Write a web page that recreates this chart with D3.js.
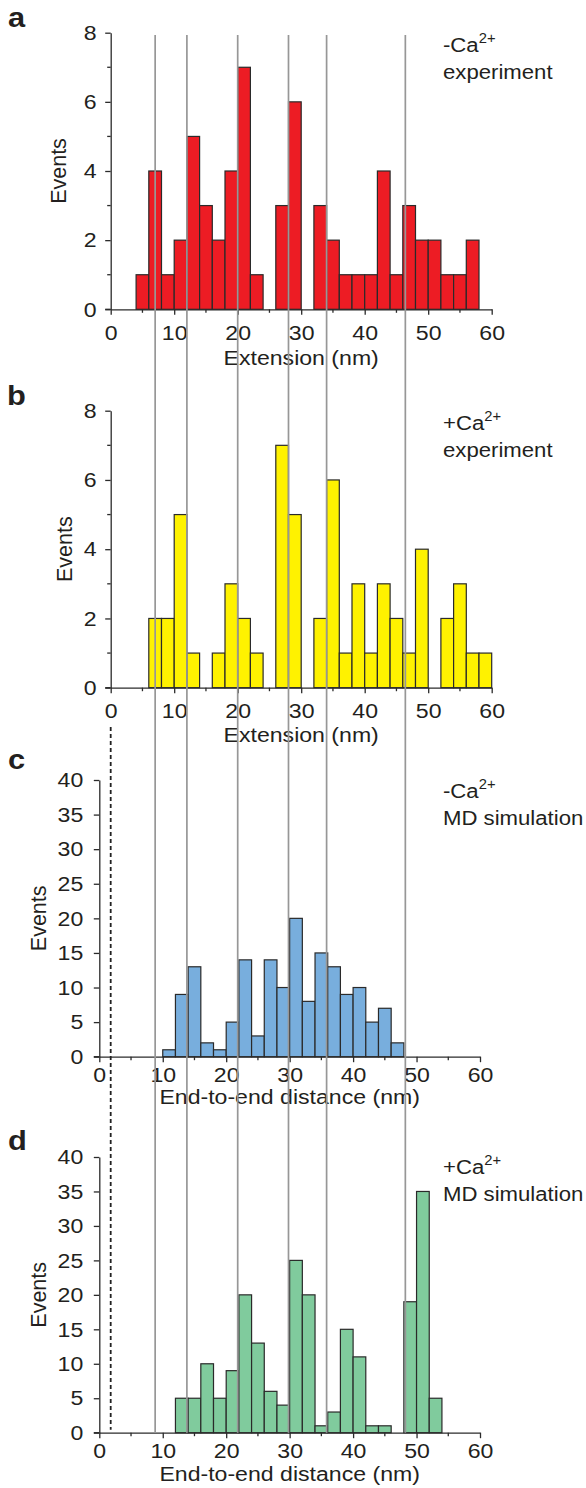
<!DOCTYPE html>
<html><head><meta charset="utf-8">
<script src="https://cdn.jsdelivr.net/npm/d3@7"></script>
<style>
html,body{margin:0;padding:0;background:#fff;}
svg{display:block;}
text{font-family:"Liberation Sans",Arial,Helvetica,sans-serif;fill:#231f20;}
</style></head><body>
<script>
// ---- data ----
const binWidth = 2;
const aStarts = [4,6,8,10,12,14,16,18,20,22,24,26,28,30,32,34,36,38,40,42,44,46,48,50,52,54,56];
const aCounts = [1,4,1,2,5,3,2,4,7,1,0,3,6,0,3,2,1,1,1,4,1,3,2,2,1,1,2];
const bStarts = [6,8,10,12,14,16,18,20,22,24,26,28,30,32,34,36,38,40,42,44,46,48,50,52,54,56,58];
const bCounts = [2,2,5,1,0,1,3,2,1,0,7,5,0,2,6,1,3,1,3,2,1,4,0,2,3,1,1];
const cStarts = [10,12,14,16,18,20,22,24,26,28,30,32,34,36,38,40,42,44,46];
const cCounts = [1,9,13,2,1,5,14,3,14,10,20,8,15,13,9,10,5,7,2];
const dStarts = [12,14,16,18,20,22,24,26,28,30,32,34,36,38,40,42,44,46,48,50,52];
const dCounts = [5,5,10,5,9,20,13,6,4,25,20,1,3,15,11,1,1,0,19,35,5];
const xTicks = [0,10,20,30,40,50,60];
const xMinor = [5,15,25,35,45,55];
const yTicksExp = [0,2,4,6,8];
const yMinorExp = [1,3,5,7];
const yTicksSim = [0,5,10,15,20,25,30,35,40];
const guideLines = [7,12,20,28,34,46.4];   // in panel a/b extension units
const dashedAt = 0;                           // in panel a/b extension units

const panels = [
  {label:"a", starts:aStarts, counts:aCounts, color:"#ed1c24", yMax:8, yTicks:yTicksExp, yMinor:yMinorExp,
   ion:"-Ca", note:"experiment", xTitle:"Extension (nm)"},
  {label:"b", starts:bStarts, counts:bCounts, color:"#fff200", yMax:8, yTicks:yTicksExp, yMinor:yMinorExp,
   ion:"+Ca", note:"experiment", xTitle:"Extension (nm)"},
  {label:"c", starts:cStarts, counts:cCounts, color:"#78aedd", yMax:40, yTicks:yTicksSim, yMinor:[],
   ion:"-Ca", note:"MD simulation", xTitle:"End-to-end distance (nm)"},
  {label:"d", starts:dStarts, counts:dCounts, color:"#80cb9d", yMax:40, yTicks:yTicksSim, yMinor:[],
   ion:"+Ca", note:"MD simulation", xTitle:"End-to-end distance (nm)"}
];

// ---- layout ----
const W = 586, H = 1488;
const SX = 1.1;    // horizontal stretch of the reference typography
const SXA = 1.055; // annotations (must fit at right edge)
const FS = 21;
const layout = [
  {x0:110.7, x1:491.7, top:32.7, bot:309.3, lab:[8,26.7], ann:[443,52], titleDy:56, evX:58, xPad:10.5, yPad:8.5},
  {x0:110.7, x1:491.7, top:410.7, bot:687.7, lab:[7,405], ann:[443,430], titleDy:54, evX:64, xPad:10, yPad:8.5},
  {x0:99.3, x1:480, top:780, bot:1056.7, lab:[8,769], ann:[443,798], titleDy:47.6, evX:38, xPad:5, yPad:10.5},
  {x0:99.3, x1:480, top:1157, bot:1432.7, lab:[8,1150], ann:[443,1174], titleDy:48.3, evX:38, xPad:5, yPad:10.5}
];

function stretch(sel, sx){
  const s = sx || SX;
  sel.each(function(){
    const t = d3.select(this);
    const x = +t.attr("x") || 0;
    t.attr("transform", `translate(${x},0) scale(${s},1) translate(${-x},0)`);
  });
}

const svg = d3.select("body").append("svg").attr("width", W).attr("height", H);
const axisColor = "#2b2b2b";
const scalesX = [];

panels.forEach((p, i) => {
  const L = layout[i];
  const x = d3.scaleLinear().domain([0,60]).range([L.x0, L.x1]);
  const y = d3.scaleLinear().domain([0,p.yMax]).range([L.bot, L.top]);
  scalesX.push(x);
  const g = svg.append("g");

  // bars
  const bins = p.starts.map((s,k)=>({s, c:p.counts[k]})).filter(d=>d.c>0);
  g.selectAll("rect.bar").data(bins).join("rect")
    .attr("class","bar")
    .attr("x", d=>x(d.s)).attr("width", d=>x(d.s+binWidth)-x(d.s))
    .attr("y", d=>y(d.c)).attr("height", d=>y(0)-y(d.c))
    .attr("fill", p.color).attr("stroke", "#2a2a2a").attr("stroke-width", 1.2);

  // x axis
  const gx = g.append("g").attr("transform", `translate(0,${L.bot})`)
    .call(d3.axisBottom(x).tickValues(xTicks).tickSize(5.5).tickSizeOuter(0).tickPadding(L.xPad).tickFormat(d3.format("d")));
  gx.selectAll(".tick text").attr("font-size", FS).attr("font-family","Liberation Sans, Arial, sans-serif").attr("fill","#231f20").call(stretch);
  gx.append("g").selectAll("line").data(xMinor).join("line")
    .attr("x1", d=>x(d)).attr("x2", d=>x(d)).attr("y1",0).attr("y2",3.5);
  // y axis
  const gy = g.append("g").attr("transform", `translate(${L.x0},0)`)
    .call(d3.axisLeft(y).tickValues(p.yTicks).tickSize(5.5).tickSizeOuter(0).tickPadding(L.yPad).tickFormat(d3.format("d")));
  gy.selectAll(".tick text").attr("font-size", FS).attr("font-family","Liberation Sans, Arial, sans-serif").attr("fill","#231f20").call(stretch);
  gy.append("g").selectAll("line").data(p.yMinor).join("line")
    .attr("y1", d=>y(d)).attr("y2", d=>y(d)).attr("x1",0).attr("x2",-3.5);
  // x domain reaches the y=0 tick
  g.append("line").attr("x1", L.x0-5.5).attr("x2", L.x0).attr("y1", L.bot).attr("y2", L.bot);
  g.selectAll("path.domain, .tick line, line").attr("stroke", axisColor).attr("stroke-width", 1.3);

  // titles
  g.append("text").attr("x", (L.x0+L.x1)/2).attr("y", L.bot + L.titleDy)
    .attr("text-anchor","middle").attr("font-size", FS).text(p.xTitle).call(stretch);
  g.append("text").attr("transform", `translate(${L.evX},${(L.top+L.bot)/2}) rotate(-90)`)
    .attr("text-anchor","middle").attr("dy","0.35em").attr("font-size", 21.5).text("Events");

  // panel label
  g.append("text").attr("x", L.lab[0]).attr("y", L.lab[1]).attr("font-size", 28)
    .attr("font-weight","bold").text(p.label).call(stretch);

  // annotation
  const t = g.append("text").attr("x", L.ann[0]).attr("y", L.ann[1]).attr("font-size", FS);
  t.append("tspan").text(p.ion);
  t.append("tspan").attr("font-size", 14).attr("dy", -9).text("2+");
  t.call(stretch, SXA);
  g.append("text").attr("x", L.ann[0]).attr("y", L.ann[1] + 27.5).attr("font-size", FS).text(p.note).call(stretch, SXA);
});

// guide lines across all panels (panel a units)
const xa = scalesX[0];
svg.append("g").selectAll("line").data(guideLines).join("line")
  .attr("x1", d=>xa(d)).attr("x2", d=>xa(d))
  .attr("y1", 35).attr("y2", layout[3].bot)
  .attr("stroke", "#979797").attr("stroke-width", 1.7);

// dashed line at extension 0
svg.append("line").attr("x1", xa(dashedAt)).attr("x2", xa(dashedAt))
  .attr("y1", 727).attr("y2", layout[3].bot - 3)
  .attr("stroke", "#222").attr("stroke-width", 1.8).attr("stroke-dasharray", "4,3");
</script>
</body></html>
